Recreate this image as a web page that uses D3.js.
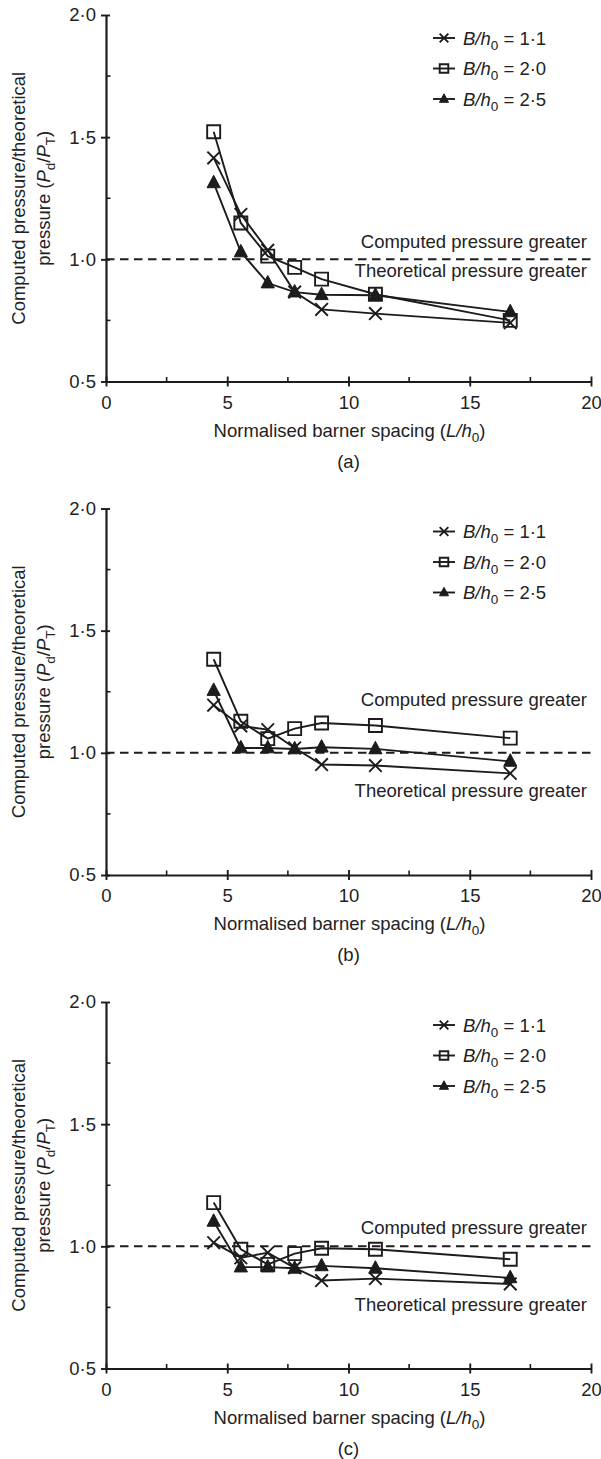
<!DOCTYPE html>
<html>
<head>
<meta charset="utf-8">
<script src="https://cdn.jsdelivr.net/npm/d3@7"></script>
<style>
  html, body { margin: 0; padding: 0; background: #fff; }
  svg { display: block; }
  text { font-family: "Liberation Sans", Arial, Helvetica, sans-serif; fill: #222; }
</style>
</head>
<body>
<svg id="chart" width="601" height="1459"></svg>
<script>
// ---------- data ----------
const xValues = [4.44, 5.56, 6.67, 7.78, 8.89, 11.11, 16.67];

const panelLabels = ["(a)", "(b)", "(c)"];
const seriesNames = ["1·1", "2·0", "2·5"];
const seriesSymbols = ["cross", "square", "triangle"];

// panel (a)
const aB11 = [1.415, 1.184, 1.037, 0.866, 0.795, 0.778, 0.740];
const aB20 = [1.522, 1.149, 1.013, 0.967, 0.919, 0.857, 0.750];
const aB25 = [1.313, 1.030, 0.903, 0.866, 0.855, 0.853, 0.785];
// panel (b)
const bB11 = [1.195, 1.110, 1.095, 1.020, 0.952, 0.948, 0.916];
const bB20 = [1.383, 1.129, 1.058, 1.099, 1.122, 1.112, 1.060];
const bB25 = [1.255, 1.020, 1.020, 1.016, 1.023, 1.016, 0.965];
// panel (c)
const cB11 = [1.015, 0.953, 0.974, 0.912, 0.860, 0.868, 0.846];
const cB20 = [1.179, 0.988, 0.926, 0.970, 0.992, 0.988, 0.947];
const cB25 = [1.102, 0.915, 0.915, 0.910, 0.920, 0.910, 0.871];

const xTicks = [0, 5, 10, 15, 20];
const xTickLabels = ["0", "5", "10", "15", "20"];
const xMinorTicks = [2.5, 7.5, 12.5, 17.5];
const yTicks = [0.5, 1.0, 1.5, 2.0];
const yTickLabels = ["0·5", "1·0", "1·5", "2·0"];
const yMinorTicks = [0.75, 1.25, 1.75];
const referenceValue = 1.0;

// annotation label heights (in data units) per panel: [computed, theoretical]
const annotComputed = [1.048, 1.190, 1.052];
const annotTheoretical = [0.929, 0.820, 0.735];

const panels = [
  { label: panelLabels[0], series: [aB11, aB20, aB25] },
  { label: panelLabels[1], series: [bB11, bB20, bB25] },
  { label: panelLabels[2], series: [cB11, cB20, cB25] }
];

// ---------- layout ----------
const svg = d3.select("#chart");
const left = 106, right = 591;
const panelTop0 = 15, panelStep = 493.5, plotH = 366.5;
const ink = "#1c1c1c";
const fs = 18.5;
const subFs = 13.5;

const x = d3.scaleLinear().domain([0, 20]).range([left, right]);

function markerPath(type, s) {
  if (type === "cross") return `M${-s},${-s}L${s},${s}M${-s},${s}L${s},${-s}`;
  if (type === "square") return `M${-s},${-s}H${s}V${s}H${-s}Z`;
  const h = s * 1.1;
  return `M0,${-h * 1.1}L${s * 1.05},${h * 0.7}L${-s * 1.05},${h * 0.7}Z`;
}

function drawMarker(g, type, cx, cy, s) {
  g.append("path")
    .attr("d", markerPath(type, s))
    .attr("transform", `translate(${cx},${cy})`)
    .attr("fill", type === "triangle" ? ink : "none")
    .attr("stroke", ink)
    .attr("stroke-width", type === "triangle" ? 1 : 1.9)
    .attr("stroke-linejoin", "miter");
}

panels.forEach((p, i) => {
  const top = panelTop0 + i * panelStep;
  const bottom = top + plotH;
  const y = d3.scaleLinear().domain([0.5, 2.0]).range([bottom, top]);
  const g = svg.append("g");

  // dashed reference line
  g.append("line")
    .attr("x1", x(0)).attr("x2", x(20))
    .attr("y1", y(referenceValue)).attr("y2", y(referenceValue))
    .attr("stroke", ink).attr("stroke-width", 2)
    .attr("stroke-dasharray", "8.5,5.5");

  // x axis
  const xAxis = d3.axisBottom(x).tickValues(xTicks)
    .tickFormat((d, k) => xTickLabels[k]).tickSizeOuter(0).tickSize(0).tickPadding(0);
  const xg = g.append("g").attr("transform", `translate(0,${bottom})`).call(xAxis);
  xg.select(".domain").attr("stroke", ink).attr("stroke-width", 2.2);
  xg.selectAll(".tick text").attr("font-size", fs).attr("dy", 27).attr("fill", "#222")
    .style("font-family", '"Liberation Sans", Arial, sans-serif');
  xg.selectAll(".tick").append("line").attr("y1", -5).attr("y2", 5)
    .attr("stroke", ink).attr("stroke-width", 1.9);
  xg.selectAll(".minor").data(xMinorTicks).enter().append("line")
    .attr("x1", d => x(d)).attr("x2", d => x(d)).attr("y1", 0).attr("y2", -4.5)
    .attr("stroke", ink).attr("stroke-width", 1.6);

  // y axis
  const yAxis = d3.axisLeft(y).tickValues(yTicks)
    .tickFormat((d, k) => yTickLabels[k]).tickSizeOuter(0).tickSize(0).tickPadding(10);
  const yg = g.append("g").attr("transform", `translate(${left},0)`).call(yAxis);
  yg.select(".domain").attr("stroke", ink).attr("stroke-width", 2.2);
  yg.selectAll(".tick text").attr("font-size", fs).attr("fill", "#222")
    .style("font-family", '"Liberation Sans", Arial, sans-serif');
  yg.selectAll(".tick").append("line").attr("x1", -5).attr("x2", 4)
    .attr("stroke", ink).attr("stroke-width", 1.9);
  yg.selectAll(".minor").data(yMinorTicks).enter().append("line")
    .attr("y1", d => y(d)).attr("y2", d => y(d)).attr("x1", 0).attr("x2", 4.5)
    .attr("stroke", ink).attr("stroke-width", 1.6);

  // series lines and markers
  const line = d3.line().x(d => x(d[0])).y(d => y(d[1]));
  p.series.forEach((vals, si) => {
    const pts = xValues.map((xv, k) => [xv, vals[k]]);
    g.append("path").datum(pts).attr("d", line)
      .attr("fill", "none").attr("stroke", ink).attr("stroke-width", 1.9);
  });
  p.series.forEach((vals, si) => {
    xValues.forEach((xv, k) => {
      drawMarker(g, seriesSymbols[si], x(xv), y(vals[k]), seriesSymbols[si] === "square" ? 6.5 : 6.3);
    });
  });

  // annotations
  g.append("text").attr("x", 587).attr("y", y(annotComputed[i]))
    .attr("text-anchor", "end").attr("font-size", fs).text("Computed pressure greater");
  g.append("text").attr("x", 587).attr("y", y(annotTheoretical[i]))
    .attr("text-anchor", "end").attr("font-size", fs).text("Theoretical pressure greater");

  // legend
  const legRows = [top + 23, top + 53.5, top + 84];
  seriesNames.forEach((nm, si) => {
    const ly = legRows[si];
    g.append("line").attr("x1", 433).attr("x2", 455).attr("y1", ly).attr("y2", ly)
      .attr("stroke", ink).attr("stroke-width", 1.9);
    drawMarker(g, seriesSymbols[si], 444, ly, 4.3);
    const t = g.append("text").attr("x", 463).attr("y", ly + 6.5).attr("font-size", fs);
    t.append("tspan").attr("font-style", "italic").text("B/h");
    t.append("tspan").attr("font-size", subFs).attr("dy", 5).text("0");
    t.append("tspan").attr("dy", -5).text(" = " + nm);
  });

  // y axis label (two lines, rotated)
  const midY = (top + bottom) / 2;
  const yl = g.append("g").attr("transform", `translate(0,${midY}) rotate(-90)`);
  yl.append("text").attr("x", 0).attr("y", 24.5).attr("text-anchor", "middle")
    .attr("font-size", fs).text("Computed pressure/theoretical");
  const t2 = yl.append("text").attr("x", 0).attr("y", 49.5).attr("text-anchor", "middle")
    .attr("font-size", fs);
  t2.append("tspan").text("pressure (");
  t2.append("tspan").attr("font-style", "italic").text("P");
  t2.append("tspan").attr("font-size", subFs).attr("dy", 5).text("d");
  t2.append("tspan").attr("dy", -5).text("/");
  t2.append("tspan").attr("font-style", "italic").text("P");
  t2.append("tspan").attr("font-size", subFs).attr("dy", 5).text("T");
  t2.append("tspan").attr("dy", -5).text(")");

  // x axis title
  const xt = g.append("text").attr("x", (left + right) / 2 + 1).attr("y", bottom + 55)
    .attr("text-anchor", "middle").attr("font-size", fs);
  xt.append("tspan").text("Normalised barner spacing (");
  xt.append("tspan").attr("font-style", "italic").text("L/h");
  xt.append("tspan").attr("font-size", subFs).attr("dy", 5).text("0");
  xt.append("tspan").attr("dy", -5).text(")");

  // panel label
  g.append("text").attr("x", (left + right) / 2).attr("y", bottom + 86)
    .attr("text-anchor", "middle").attr("font-size", fs).text(p.label);
});
</script>
</body>
</html>
